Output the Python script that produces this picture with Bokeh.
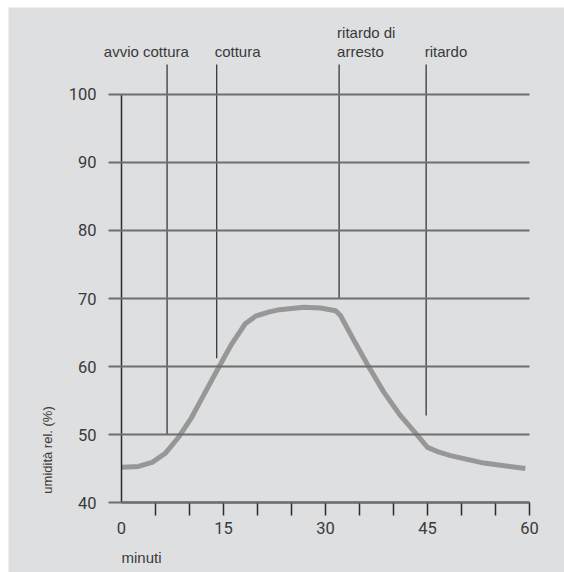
import math
from bokeh.plotting import figure
from bokeh.models import Range1d, FixedTicker, Label, ColumnDataSource
from bokeh.embed import file_html
from bokeh.resources import INLINE

# ---- data ----
minutes = [0, 0.2, 2.5, 4.5, 6.4, 8.4, 10.3, 12.3, 14.3, 16.2, 18.2, 19.7, 21.6,
           22.9, 26.8, 29.3, 31.5, 32.2, 34.2, 36.4, 38.6, 41.0, 43.5,
           45.0, 46.7, 48.4, 53.3, 59.4]
humidity = [45.2, 45.2, 45.3, 45.9, 47.2, 49.6, 52.5, 56.2, 59.9, 63.3, 66.3, 67.4, 68.0,
            68.3, 68.7, 68.6, 68.2, 67.5, 63.8, 59.9, 56.2, 52.8, 49.9,
            48.1, 47.4, 46.9, 45.8, 45.0]

event_x = [6.7, 14.0, 32.0, 44.8]
event_bottom = [50.0, 61.2, 70.0, 52.8]
event_top = [104.4, 104.4, 104.4, 104.4]

label_texts = ["avvio cottura", "cottura", "ritardo di", "arresto", "ritardo"]
label_x = [-2.6, 13.7, 31.7, 31.7, 44.6]
label_y = [106.3, 106.3, 109.1, 106.3, 106.3]

x_ticks = [0, 15, 30, 45, 60]
x_minor_ticks = [5, 10, 15, 20, 25, 30, 35, 40, 45, 50, 55, 60]
y_ticks = [40, 50, 60, 70, 80, 90, 100]

x_label = "minuti"
y_label = "umidità rel. (%)"

BG = "#dedfe1"
TXT = "#3a3a3a"
GRID = "#6e6e6e"
DARK = "#2b2b2b"
CURVE = "#979797"
LABEL_FONT = "Liberation Sans"
TICK_FONT = "Roboto"

PX_PER_MIN = 6.8  # horizontal scale in the picture, px per minute

p = figure(width=556, height=565, output_backend="svg", toolbar_location=None,
           x_range=Range1d(-16.62, 65.15), y_range=Range1d(29.71, 112.79),
           min_border=0, margin=(7, 0, 0, 8))
p.background_fill_color = BG
p.border_fill_color = BG
p.outline_line_color = None
p.grid.visible = False

# y axis drawn at x = 0; its ticks run across the plot as the horizontal rules
p.yaxis.fixed_location = 0
p.yaxis.ticker = FixedTicker(ticks=y_ticks)
p.yaxis.bounds = (y_ticks[0], y_ticks[-1])
p.yaxis.axis_line_color = DARK
p.yaxis.axis_line_width = 1.5
p.yaxis.major_tick_out = 13
p.yaxis.major_tick_in = int(round(x_ticks[-1] * PX_PER_MIN))
p.yaxis.major_tick_line_color = GRID
p.yaxis.major_tick_line_width = 2
p.yaxis.minor_tick_line_color = None
p.yaxis.major_label_standoff = 12
p.yaxis.major_label_text_font = TICK_FONT
p.yaxis.major_label_text_font_size = "16.5px"
p.yaxis.major_label_text_color = TXT

# x axis at y = 40
p.xaxis.fixed_location = y_ticks[0]
p.xaxis.ticker = FixedTicker(ticks=x_ticks, minor_ticks=x_minor_ticks)
p.xaxis.bounds = (x_ticks[0], x_ticks[-1])
p.xaxis.axis_line_color = "#4a4a4a"
p.xaxis.axis_line_width = 2
p.xaxis.major_tick_out = 0
p.xaxis.major_tick_in = 0
p.xaxis.minor_tick_out = 13
p.xaxis.minor_tick_in = 0
p.xaxis.minor_tick_line_color = DARK
p.xaxis.minor_tick_line_width = 1.5
p.xaxis.major_label_standoff = 6
p.xaxis.major_label_text_font = TICK_FONT
p.xaxis.major_label_text_font_size = "16.5px"
p.xaxis.major_label_text_color = TXT

# event marker lines
src = ColumnDataSource(dict(x=event_x, y0=event_bottom, y1=event_top))
p.segment(x0="x", y0="y0", x1="x", y1="y1", source=src,
          line_color=DARK, line_width=1.2)

# humidity curve
p.line(minutes, humidity, line_color=CURVE, line_width=5, line_join="round")

# top labels
for t, lx, ly in zip(label_texts, label_x, label_y):
    p.add_layout(Label(x=lx, y=ly, text=t, text_font=LABEL_FONT,
                       text_font_size="15px", text_color=TXT,
                       text_align="left", text_baseline="alphabetic"))

# axis titles
p.add_layout(Label(x=0, y=31.95, text=x_label, text_font=LABEL_FONT,
                   text_font_size="15px", text_color=TXT,
                   text_align="left", text_baseline="alphabetic"))
p.add_layout(Label(x=-10.9, y=41.3, text=y_label, text_font=LABEL_FONT,
                   text_font_size="13px", text_color=TXT, angle=math.pi / 2,
                   text_align="left", text_baseline="middle"))

open("out.html", "w").write(file_html(p, INLINE))
